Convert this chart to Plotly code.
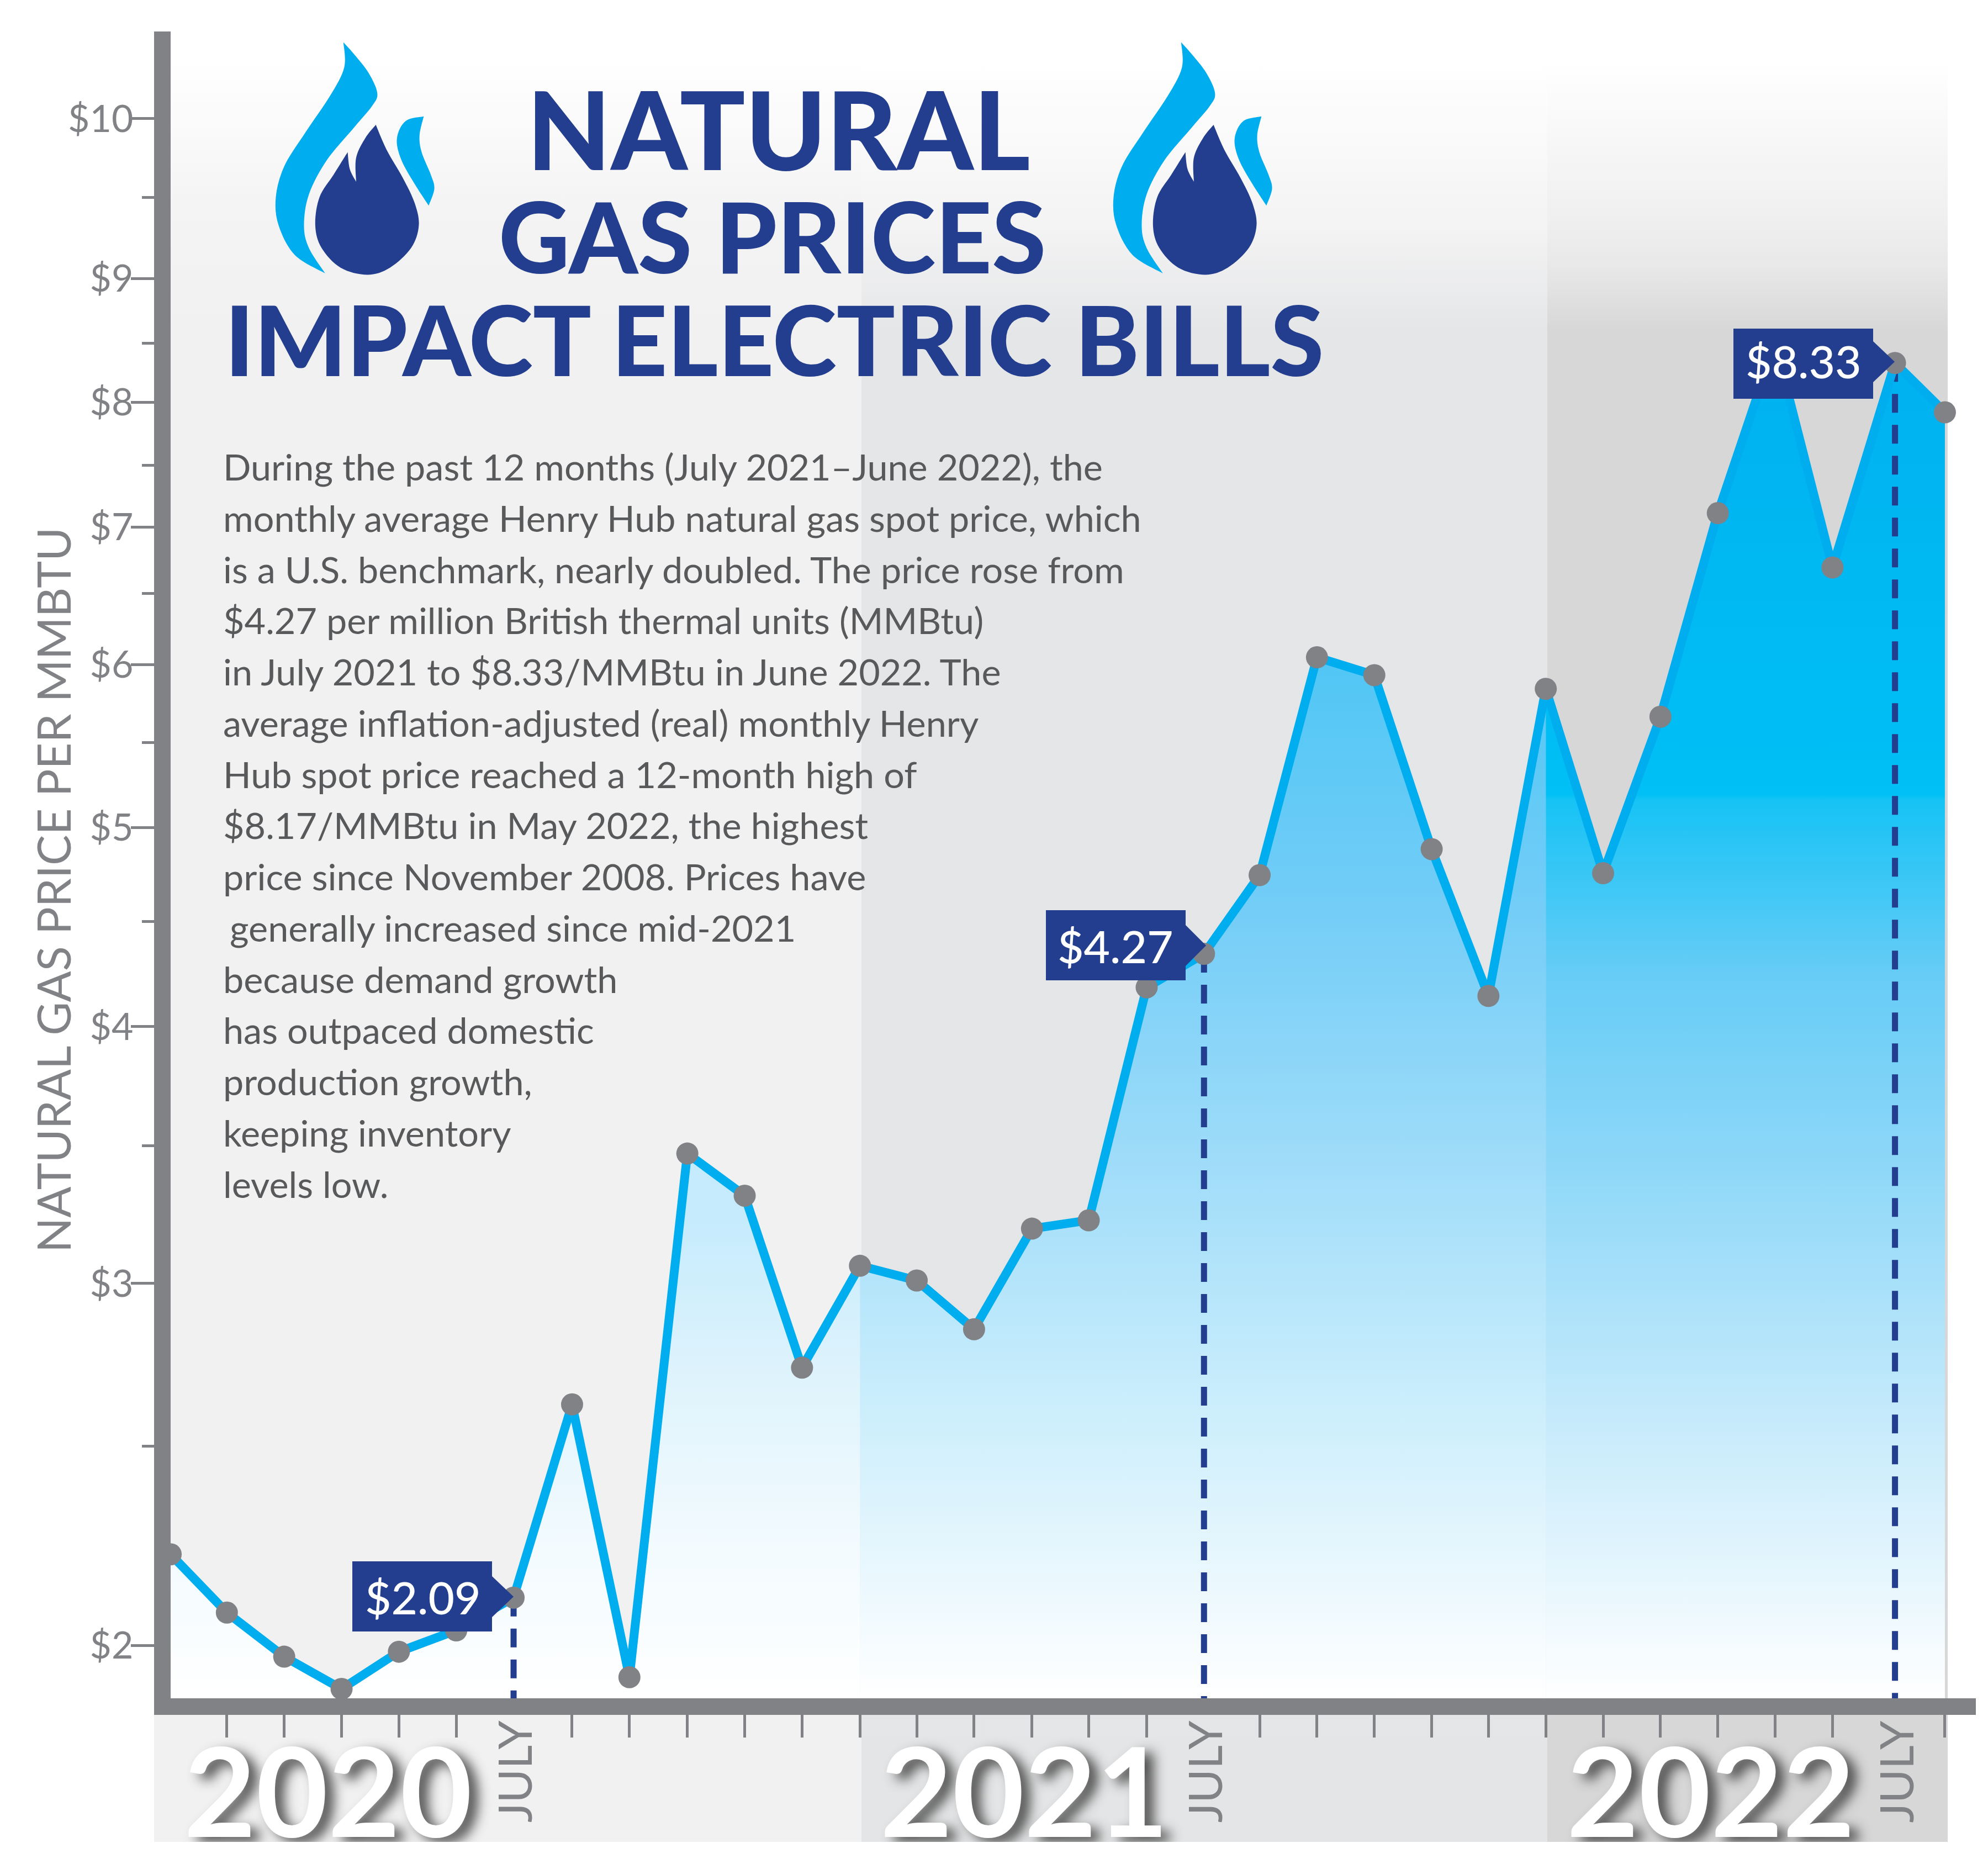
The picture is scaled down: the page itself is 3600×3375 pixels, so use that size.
import numpy as np
import plotly.graph_objects as go

# ---------- data ----------
month_index = [0.02, 1, 2, 3, 4, 5, 6, 7.02, 8.02, 9.03, 10.03, 11.03, 12.04, 13.03, 14.03, 15.04, 16.03, 17.04, 18.04,
               19.01, 20.01, 21.01, 22.01, 23, 24, 25, 26, 27, 28, 29, 30.09, 30.96]
price = [2.215, 2.075, 1.975, 1.905, 1.986, 2.034, 2.11, 2.62, 1.93, 3.47, 3.31, 2.73, 3.06, 3.01, 2.85, 3.19,
         3.22, 4.18, 4.34, 4.74, 6.05, 5.93, 4.88, 4.14, 5.84, 4.75, 5.66, 7.11, 8.5, 6.69, 8.33, 7.96]
major_prices = [2, 3, 4, 5, 6, 7, 8, 9, 10]
major_labels = ["$2", "$3", "$4", "$5", "$6", "$7", "$8", "$9", "$10"]
minor_prices = [2.5, 3.5, 4.5, 5.5, 6.5, 7.5, 8.5, 9.5]
month_ticks = [1, 2, 3, 4, 5, 7.02, 8.02, 9.03, 10.03, 11.03, 12.04, 13.03, 14.03, 15.04, 16.03, 17.04, 19.01, 20.01,
               21.01, 22.01, 23, 24, 25, 26, 27, 28, 29, 30.96]
july_index = [6, 18.04, 30.09]
callout_labels = ["$2.09", "$4.27", "$8.33"]
years = ["2020", "2021", "2022"]
title_lines = ["NATURAL", "GAS PRICES", "IMPACT ELECTRIC BILLS"]
body_lines = [
    "During the past 12 months (July 2021–June 2022), the",
    "monthly average Henry Hub natural gas spot price, which",
    "is a U.S. benchmark, nearly doubled. The price rose from",
    "$4.27 per million British thermal units (MMBtu)",
    "in July 2021 to $8.33/MMBtu in June 2022. The",
    "average inflation-adjusted (real) monthly Henry",
    "Hub spot price reached a 12-month high of",
    "$8.17/MMBtu in May 2022, the highest",
    "price since November 2008. Prices have",
    " generally increased since mid-2021",
    "because demand growth",
    "has outpaced domestic",
    "production growth,",
    "keeping inventory",
    "levels low.",
]

# the printed axis is log-like but stretched above $8
stretch_from = [1.5, 7.96, 8, 8.5, 9, 9.5, 10]
stretch_to = [1.5, 7.96, 8.05, 8.60, 9.245, 10.125, 11.06]


def stretch(v):
    return np.exp(np.interp(np.log(v), np.log(stretch_from), np.log(stretch_to)))


# ---------- style ----------
W, H = 3600, 3375
GREY = "#808285"
NAVY = "#243e8f"
BLUE = "#00aeef"
FONT = "Lato"
AX_L, AX_R, AX_T, AX_B = 309, 3578, 57, 3075
Y_LOW, Y_HIGH = 1.885, 12.195
Y_GRAD_TOP = 8.72


def pixel_stops(stops, y_start, y_stop):
    return [[(y - y_start) / (y_stop - y_start), c] for y, c in stops]


fig = go.Figure()


# page-sized helper layer: gradient bands
def band(x0, x1, y0, y1, stops):
    fig.add_trace(go.Scatter(
        x=[x0, x1, x1, x0, x0], y=[y0, y0, y1, y1, y0], xaxis="x", yaxis="y", mode="lines",
        line=dict(width=0), fill="toself", hoverinfo="skip", showlegend=False,
        fillgradient=dict(type="vertical", start=y0, stop=y1, colorscale=pixel_stops(stops, y0, y1))))


band(279, 1560, 57, 3335, [(57, "#ffffff"), (110, "#ffffff"), (400, "#f3f3f4"), (600, "#f1f1f2"), (3335, "#f1f1f2")])
band(1560, 2802, 57, 3335, [(57, "#ffffff"), (110, "#ffffff"), (400, "#f4f4f5"), (600, "#e5e6e7"), (3335, "#e4e5e6")])
band(2802, 3527, 57, 3335, [(57, "#ffffff"), (110, "#ffffff"), (400, "#efefef"), (483, "#e8e8e8"), (600, "#d7d7d8"), (3335, "#d7d7d8")])

# big year labels, cut off by the lower edge of the bands
for label, cx in zip(years, [594, 1855, 3098]):
    fig.add_trace(go.Scatter(
        x=[cx], y=[3270], xaxis="x", yaxis="y", mode="text", text=[label], textposition="middle center",
        textfont=dict(family=FONT, size=225, color="#ffffff", weight=700,
                      shadow="16px 10px 22px rgba(50,50,50,0.85)"),
        hoverinfo="skip", showlegend=False))
fig.add_trace(go.Scatter(
    x=[0, W, W, 0, 0], y=[3335, 3335, H, H, 3335], xaxis="x", yaxis="y", mode="lines",
    line=dict(width=0), fill="toself", fillcolor="#ffffff", hoverinfo="skip", showlegend=False))

# ---------- chart ----------
xv = np.array(month_index, dtype=float)
yv = stretch(np.array(price))
fill_stops = [
    [(3075, "#ffffff"), (2774, "#f1fafe"), (2487, "#def3fc"), (2200, "#c5ebfd"), (600, "#bde8fb")],
    [(3075, "#ffffff"), (2774, "#e2f5fd"), (2544, "#cbeefc"), (2104, "#9fdcf9"), (1644, "#73cdf7"), (1190, "#50c6f5"), (600, "#50c6f5")],
    [(3075, "#ffffff"), (2563, "#c5eafb"), (2104, "#8dd7f8"), (1760, "#66ccf6"), (1450, "#16c3f5"), (1438, "#00c0f5"), (600, "#00b0f0")],
]
for (i0, i1), stops in zip([(0, 13), (12, 25), (24, 32)], fill_stops):
    fig.add_trace(go.Scatter(
        x=xv[i0:i1], y=yv[i0:i1], xaxis="x2", yaxis="y2", mode="lines", line=dict(width=0),
        fill="tozeroy", hoverinfo="skip", showlegend=False,
        fillgradient=dict(type="vertical", start=float(Y_LOW), stop=float(Y_GRAD_TOP),
                          colorscale=pixel_stops(stops, 3075, 600))))

for j in july_index:
    k = month_index.index(j)
    fig.add_trace(go.Scatter(
        x=[j, j], y=[yv[k], Y_LOW], xaxis="x2", yaxis="y2", mode="lines",
        line=dict(color=NAVY, width=11, dash="34px,22px"), hoverinfo="skip", showlegend=False))

fig.add_trace(go.Scatter(
    x=xv, y=yv, xaxis="x2", yaxis="y2", mode="lines+markers", cliponaxis=False,
    line=dict(color=BLUE, width=16, shape="linear"),
    marker=dict(color=GREY, size=40, line=dict(width=0)), showlegend=False, name="Henry Hub"))

# ---------- decoration ----------
def to_px(zx, zy, dx=0):
    return 400 + zx / 0.784 + dx, zy / 1.96


def smooth(points):
    d = ""
    n = len(points)
    for i in range(n - 1):
        p0 = points[max(i - 1, 0)]
        p1, p2 = points[i], points[i + 1]
        p3 = points[min(i + 2, n - 1)]
        c1 = (p1[0] + (p2[0] - p0[0]) / 6, p1[1] + (p2[1] - p0[1]) / 6)
        c2 = (p2[0] - (p3[0] - p1[0]) / 6, p2[1] - (p3[1] - p1[1]) / 6)
        d += f"C{c1[0]:.1f},{c1[1]:.1f} {c2[0]:.1f},{c2[1]:.1f} {p2[0]:.1f},{p2[1]:.1f} "
    return d


def flame_path(segments, dx):
    segs = [[to_px(x, y, dx) for x, y in s] for s in segments]
    d = f"M{segs[0][0][0]:.1f},{segs[0][0][1]:.1f} "
    for s in segs:
        d += smooth(s)
    return d + "Z"


flame_big = [[(174, 150), (190, 195), (210, 260), (222, 330), (215, 375), (190, 450), (150, 570), (125, 690),
              (118, 800), (125, 880), (148, 970)],
             [(148, 970), (105, 905), (82, 800), (78, 700), (90, 590), (120, 470), (155, 340), (175, 240), (174, 150)]]
flame_small = [[(288, 413), (262, 430), (250, 490), (255, 560), (272, 640), (295, 730)],
               [(295, 730), (303, 670), (298, 620), (285, 540), (282, 480), (288, 413)]]
drop = [[(220, 443), (235, 530), (258, 630), (275, 720), (281, 800), (270, 880), (240, 950), (208, 975), (170, 950),
         (143, 880), (134, 800), (140, 700), (160, 620), (180, 540)],
        [(180, 540), (183, 600), (192, 645)],
        [(192, 645), (192, 560), (205, 490), (220, 443)]]
shapes = []
for dx in (0, 1517):
    for segs, color in ((flame_big, BLUE), (flame_small, BLUE), (drop, NAVY)):
        shapes.append(dict(type="path", xref="x", yref="y", path=flame_path(segs, dx),
                           fillcolor=color, line=dict(width=0), layer="above"))

# call-out boxes with arrow
callouts = [(638, 891, 2827, 2954, 930, 2891), (1894, 2147, 1648, 1775, 2184, 1712), (3139, 3392, 595, 722, 3431, 655)]
for x0, x1, y0, y1, tx, ty in callouts:
    p = (f"M{x0},{y0} L{x1},{y0} L{x1},{ty-37} L{tx},{ty} L{x1},{ty+37} L{x1},{y1} L{x0},{y1} Z")
    shapes.append(dict(type="path", xref="x", yref="y", path=p, fillcolor=NAVY, line=dict(width=0), layer="above"))

ann = []
for text, cx, cy, size in zip(title_lines, [1410, 1398, 1402], [232, 426, 612], [197, 178, 176]):
    ann.append(dict(x=cx, y=cy, xref="x", yref="y", text=text, showarrow=False, xanchor="center", yanchor="middle",
                    font=dict(family=FONT, size=size, color=NAVY, weight=900)))
line_y0, line_step = 844, 92.75
for i, line in enumerate(body_lines):
    stripped = line.strip()
    ann.append(dict(x=402 + (12 if line.startswith(" ") else 0), y=line_y0 + i * line_step, xref="x", yref="y",
                    text=stripped, showarrow=False, xanchor="left", yanchor="middle",
                    font=dict(family=FONT, size=66.5, color="#58595b")))
for label, cx, cy in zip(callout_labels, [766, 2020, 3266], [2891, 1712, 653]):
    ann.append(dict(x=cx, y=cy, xref="x", yref="y", text=label, showarrow=False, xanchor="center", yanchor="middle",
                    font=dict(family=FONT, size=82, color="#ffffff", weight=500)))
for j in july_index:
    ann.append(dict(x=j, y=3208, xref="x2", yref="y", text="JULY", showarrow=False, textangle=-90,
                    xanchor="center", yanchor="middle", font=dict(family=FONT, size=84, color=GREY)))
ann.append(dict(x=96, y=1612, xref="x", yref="y", text="NATURAL GAS PRICE PER MMBTU", showarrow=False, textangle=-90,
                xanchor="center", yanchor="middle", font=dict(family=FONT, size=83, color=GREY)))

fig.update_layout(
    width=W, height=H, margin=dict(l=0, r=0, t=0, b=0, pad=0), paper_bgcolor="#ffffff", plot_bgcolor="rgba(0,0,0,0)",
    showlegend=False, shapes=shapes, annotations=ann,
    xaxis=dict(domain=[0, 1], range=[0, W], visible=False, fixedrange=True),
    yaxis=dict(domain=[0, 1], range=[H, 0], visible=False, fixedrange=True),
    xaxis2=dict(domain=[AX_L / W, AX_R / W], anchor="y2", range=[0.0193, 31.5], showgrid=False, zeroline=False,
                showline=True, linecolor=GREY, linewidth=30, tickmode="array", tickvals=month_ticks,
                ticktext=[""] * len(month_ticks), ticks="outside", ticklen=41, tickwidth=5, tickcolor=GREY),
    yaxis2=dict(domain=[(H - AX_B) / H, (H - AX_T) / H], anchor="x2", type="log",
                range=[float(np.log10(Y_LOW)), float(np.log10(Y_HIGH))], showgrid=False, zeroline=False,
                showline=True, linecolor=GREY, linewidth=30, tickmode="array",
                tickvals=[float(v) for v in stretch(np.array(major_prices, dtype=float))], ticktext=major_labels,
                ticks="outside", ticklen=42, tickwidth=5, tickcolor=GREY, ticklabelstandoff=-18,
                tickfont=dict(family=FONT, size=68, color=GREY),
                minor=dict(tickmode="array", tickvals=[float(v) for v in stretch(np.array(minor_prices))],
                           ticks="outside", ticklen=22, tickwidth=5, tickcolor=GREY, showgrid=False)),
)
fig.write_html("out.html", post_script="document.body.style.margin='0';", config=dict(displayModeBar=False))
